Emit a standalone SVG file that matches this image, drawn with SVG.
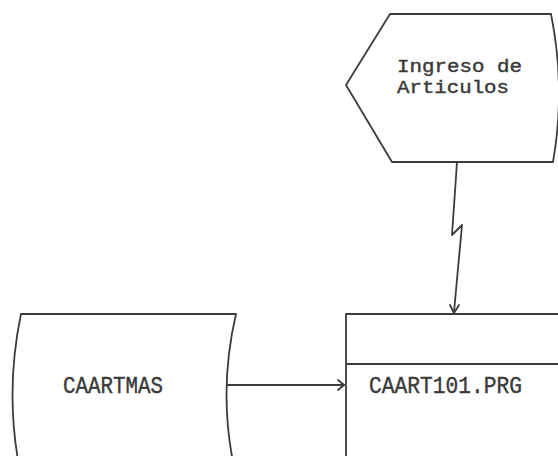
<svg xmlns="http://www.w3.org/2000/svg" width="558" height="456" viewBox="0 0 558 456">
<style>
.s{fill:none;stroke:#3c3c3c;stroke-width:1.8;stroke-linejoin:round;stroke-linecap:round}
.t{font-family:"Liberation Mono","DejaVu Sans Mono",monospace;font-size:23px;fill:#3a3a3a;stroke:#3a3a3a;stroke-width:0.4}
.u{font-size:18px}
</style>
<rect width="558" height="456" fill="#ffffff"/>
<g id="ingreso">
<path class="s" d="M390,14 L551,14 Q566,88 553,162 L392,162 L346,85 Z"/>
<text class="t u" x="397" y="71.5" textLength="125" lengthAdjust="spacingAndGlyphs">Ingreso de</text>
<text class="t u" x="397" y="92.5" textLength="112" lengthAdjust="spacingAndGlyphs">Articulos</text>
</g>
<g id="caartmas">
<path class="s" d="M21,314 L236,314 Q217,395 236,476 M21,314 Q4,395 21,476"/>
<text class="t" x="63" y="393" textLength="100" lengthAdjust="spacingAndGlyphs">CAARTMAS</text>
</g>
<g id="caart101">
<path class="s" d="M346,476 L346,314 L570,314 M346,364 L570,364"/>
<text class="t" x="369" y="393" textLength="153" lengthAdjust="spacingAndGlyphs">CAART101.PRG</text>
</g>
<g id="connectors">
<polyline class="s" points="457,162 452,235 462,225 454,312"/>
<polyline class="s" points="450,305 454,313 459,305"/>
<line class="s" x1="227" y1="385" x2="344" y2="385"/>
<polyline class="s" points="338,380 344,385 338,390"/>
</g>
</svg>
